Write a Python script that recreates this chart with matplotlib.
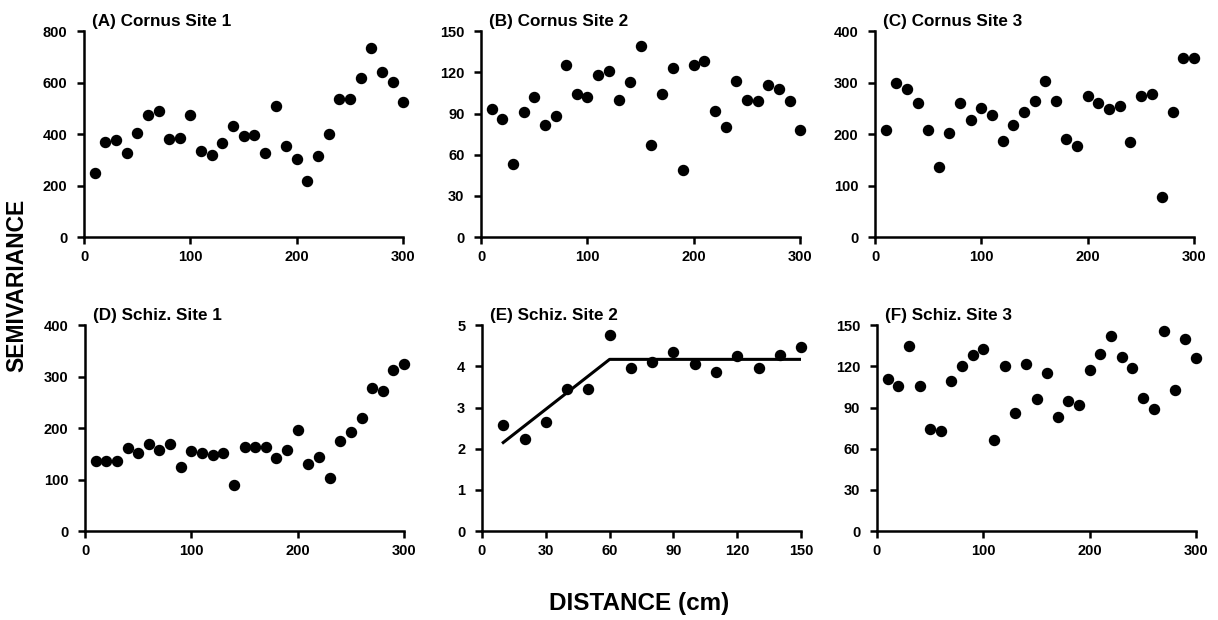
import numpy as np
import matplotlib
matplotlib.use("Agg")
import matplotlib.pyplot as plt

plt.rcParams['font.family'] = ['Liberation Sans', 'DejaVu Sans']
plt.rcParams['font.weight'] = 'bold'

# distance lags (cm)
dist_300 = [10, 20, 30, 40, 50, 60, 70, 80, 90, 100, 110, 120, 130, 140, 150,
            160, 170, 180, 190, 200, 210, 220, 230, 240, 250, 260, 270, 280, 290, 300]
dist_150 = [10, 20, 30, 40, 50, 60, 70, 80, 90, 100, 110, 120, 130, 140, 150]

cornus1 = [249, 371, 377, 327, 405, 476, 489, 380, 386, 476, 335, 320, 367, 430, 392,
           398, 328, 510, 353, 302, 218, 314, 400, 537, 537, 620, 733, 643, 604, 525]
cornus2 = [93, 86, 53, 91, 102, 82, 88, 125, 104, 102, 118, 121, 100, 113, 139,
           67, 104, 123, 49, 125, 128, 92, 80, 114, 100, 99, 111, 108, 99, 78]
cornus3 = [208, 299, 287, 260, 208, 137, 203, 261, 228, 251, 238, 187, 218, 242, 264,
           304, 264, 190, 177, 275, 261, 249, 255, 184, 275, 278, 78, 243, 348, 348]
schiz1 = [137, 137, 137, 161, 151, 170, 157, 170, 125, 155, 151, 148, 151, 89, 164,
          164, 164, 141, 157, 197, 131, 144, 103, 175, 192, 219, 278, 272, 313, 324]
schiz2 = [2.57, 2.24, 2.65, 3.46, 3.46, 4.76, 3.95, 4.11, 4.35, 4.05, 3.87, 4.25, 3.95, 4.27, 4.48]
schiz3 = [111, 106, 135, 106, 74, 73, 109, 120, 128, 133, 66, 120, 86, 122, 96,
          115, 83, 95, 92, 117, 129, 142, 127, 119, 97, 89, 146, 103, 140, 126]

# fitted linear-plateau model for Schiz. site 2
fit_x = [10, 60, 150]
fit_y = [2.15, 4.17, 4.17]

titles = ["(A) Cornus Site 1", "(B) Cornus Site 2", "(C) Cornus Site 3",
          "(D) Schiz. Site 1", "(E) Schiz. Site 2", "(F) Schiz. Site 3"]
ymax = [800, 150, 400, 400, 5, 150]
ystep = [200, 30, 100, 100, 1, 30]

fig = plt.figure(figsize=(12.18, 6.2), dpi=100)

lefts = [[0.069, 0.395, 0.7184], [0.0698, 0.3957, 0.72]]
bottoms = [0.6177, 0.1435]
w, h = 0.262, 0.332

panels = [(dist_300, cornus1), (dist_300, cornus2), (dist_300, cornus3),
          (dist_300, schiz1), (dist_150, schiz2), (dist_300, schiz3)]

for i, (xs, ys) in enumerate(panels):
    r, c = divmod(i, 3)
    ax = fig.add_axes([lefts[r][c], bottoms[r], w, h])
    ax.scatter(xs, ys, s=52, color='black', zorder=3, clip_on=False)
    xmax = 150 if i == 4 else 300
    xstep = 30 if i == 4 else 100
    if i == 4:
        ax.plot(fit_x, fit_y, color='black', lw=2.2)
    ax.set_xlim(0, xmax)
    ax.set_ylim(0, ymax[i])
    ax.set_xticks(np.arange(0, xmax + 1, xstep))
    ax.set_yticks(np.arange(0, ymax[i] + 0.001, ystep[i]))
    for s in ['top', 'right']:
        ax.spines[s].set_visible(False)
    for s in ['left', 'bottom']:
        ax.spines[s].set_linewidth(1.8)
    ax.tick_params(direction='out', length=5, width=1.8, labelsize=10.5)
    ax.tick_params(axis='y', pad=7)
    ax.tick_params(axis='x', pad=4)
    for lab in ax.get_xticklabels() + ax.get_yticklabels():
        lab.set_fontweight('bold')
    ax.text(0.025, 1.01, titles[i], transform=ax.transAxes, fontsize=12.3,
            fontweight='bold', va='bottom', ha='left')

fig.text(0.014, 0.54, "SEMIVARIANCE", rotation=90, fontsize=16.5,
         fontweight='bold', va='center', ha='center')
fig.text(0.525, 0.026, "DISTANCE (cm)", fontsize=17.5,
         fontweight='bold', va='center', ha='center')

fig.savefig("out.png", dpi=100)
